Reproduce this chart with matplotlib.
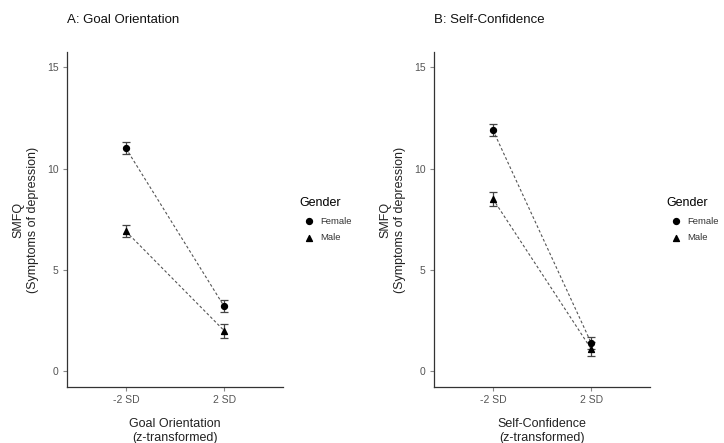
import numpy as np
import matplotlib.pyplot as plt

plt.rcParams['font.family'] = ['Liberation Sans', 'DejaVu Sans']

# data
levels = ['-2 SD', '2 SD']
genders = ['Female', 'Male']

goal_female = [11.0, 3.2]
goal_female_err = [0.3, 0.3]
goal_male = [6.9, 2.0]
goal_male_err = [0.3, 0.35]

conf_female = [11.9, 1.4]
conf_female_err = [0.28, 0.3]
conf_male = [8.5, 1.1]
conf_male_err = [0.35, 0.35]

titles = ['A: Goal Orientation', 'B: Self-Confidence']
xlabels = ['Goal Orientation\n(z-transformed)', 'Self-Confidence\n(z-transformed)']

panels = [
    (goal_female, goal_female_err, goal_male, goal_male_err),
    (conf_female, conf_female_err, conf_male, conf_male_err),
]

fig = plt.figure(figsize=(7.24, 4.43), dpi=100)
lefts = [0.0925, 0.5994]
markers = {'Female': 'o', 'Male': '^'}

x = np.arange(1, len(levels) + 1)

for i, (fem, fem_err, mal, mal_err) in enumerate(panels):
    ax = fig.add_axes([lefts[i], 0.1264, 0.2985, 0.7562])
    for g, vals, errs in [('Female', fem, fem_err), ('Male', mal, mal_err)]:
        ax.plot(x, vals, linestyle=(0, (2.5, 2)), color='#555555', linewidth=0.8, zorder=1)
        ax.errorbar(x, vals, yerr=errs, fmt='none', ecolor='#444444',
                    elinewidth=0.9, capsize=3, capthick=0.9, zorder=2)
        ax.scatter(x, vals, marker=markers[g], s=18, color='black', zorder=3, label=g)

    ax.set_xlim(0.4, 2.6)
    ax.set_ylim(-0.78, 15.75)
    ax.set_xticks(x)
    ax.set_xticklabels(levels)
    ax.set_yticks([0, 5, 10, 15])
    for s in ['top', 'right']:
        ax.spines[s].set_visible(False)
    for s in ['left', 'bottom']:
        ax.spines[s].set_color('#333333')
        ax.spines[s].set_linewidth(0.9)
    ax.tick_params(colors='#888888', labelcolor='#555555', labelsize=7.5,
                   length=3, width=0.8, pad=3)
    ax.set_xlabel(xlabels[i], fontsize=9, color='#222222', labelpad=9, linespacing=1.2)
    ax.set_ylabel('SMFQ\n(Symptoms of depression)', fontsize=9, color='#222222',
                  labelpad=6, linespacing=1.2)
    fig.text(lefts[i], 0.955, titles[i], fontsize=9.5, color='#111111', va='center')

    leg = ax.legend(title='Gender', loc='center left', bbox_to_anchor=(1.05, 0.5),
                    frameon=False, fontsize=6.8, title_fontsize=9,
                    handletextpad=0.2, labelspacing=0.8, markerscale=1.0,
                    borderaxespad=0.2)
    leg._legend_box.align = 'left'
    for t in leg.get_texts():
        t.set_color('#333333')

fig.savefig('out.png', dpi=100)
